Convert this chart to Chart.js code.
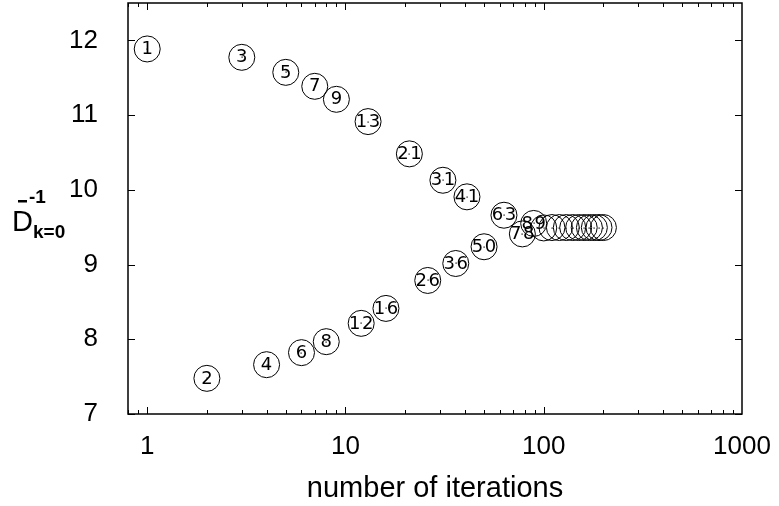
<!DOCTYPE html>
<html>
<head>
<meta charset="utf-8">
<script src="https://cdn.jsdelivr.net/npm/chart.js@4"></script>
<style>
  html, body { margin: 0; padding: 0; background: #fff; }
  #wrap { width: 779px; height: 506px; }
</style>
</head>
<body>
<div id="wrap"><canvas id="c" width="779" height="506"></canvas></div>
<script>
// ---- data ----
const iterations = [1, 2, 3, 4, 5, 6, 7, 8, 9, 12, 13, 16, 21, 26, 31, 36, 41, 50, 63, 78, 89,
  100, 110, 120, 130, 140, 150, 160, 170, 180, 190, 200];
const invD = [11.885, 7.477, 11.773, 7.660, 11.572, 7.821, 11.385, 7.968, 11.211, 8.213, 10.913,
  8.413, 10.481, 8.787, 10.128, 9.014, 9.906, 9.238, 9.660, 9.410, 9.550,
  9.490, 9.495, 9.495, 9.495, 9.495, 9.495, 9.495, 9.495, 9.495, 9.495, 9.495];
const pointLabels = ["1", "2", "3", "4", "5", "6", "7", "8", "9", "12", "13", "16", "21", "26", "31",
  "36", "41", "50", "63", "78", "89", "", "", "", "", "", "", "", "", "", "", ""];
const xTicks = [1, 10, 100, 1000];
const xTickLabels = ["1", "10", "100", "1000"];
const yTicks = [7, 8, 9, 10, 11, 12];
const yTickLabels = ["7", "8", "9", "10", "11", "12"];
const xTitle = "number of iterations";

const points = iterations.map((x, i) => ({ x: x, y: invD[i] }));

const decor = {
  id: 'decor',
  afterDatasetsDraw(chart) {
    const ctx = chart.ctx;
    const a = chart.chartArea;
    const xs = chart.scales.x, ys = chart.scales.y;
    ctx.save();
    // frame
    ctx.strokeStyle = '#000';
    ctx.lineWidth = 1.5;
    ctx.strokeRect(a.left, a.top, a.right - a.left, a.bottom - a.top);
    // x ticks (major + minor), inward at bottom and top
    ctx.lineWidth = 1;
    ctx.beginPath();
    for (let d = -1; d <= 2; d++) {
      for (let m = 1; m <= 9; m++) {
        const v = m * Math.pow(10, d);
        if (v < xs.min - 1e-9 || v > xs.max + 1e-9) continue;
        const px = Math.round(xs.getPixelForValue(v)) + 0.5;
        const len = (m === 1) ? 7 : 4;
        ctx.moveTo(px, a.bottom); ctx.lineTo(px, a.bottom - len);
        ctx.moveTo(px, a.top); ctx.lineTo(px, a.top + len);
      }
    }
    // y ticks inward left and right
    yTicks.forEach(v => {
      const py = Math.round(ys.getPixelForValue(v)) + 0.5;
      ctx.moveTo(a.left, py); ctx.lineTo(a.left + 7, py);
      ctx.moveTo(a.right, py); ctx.lineTo(a.right - 7, py);
    });
    ctx.stroke();

    // point labels + centre dots
    ctx.fillStyle = '#000';
    ctx.font = '18px "DejaVu Sans"';
    ctx.textAlign = 'center';
    ctx.textBaseline = 'middle';
    iterations.forEach((x, i) => {
      const cx = xs.getPixelForValue(x);
      const cy = ys.getPixelForValue(invD[i]);
      ctx.fillRect(Math.round(cx) - 0.5, Math.round(cy) - 0.5, 1.2, 1.2);
      const t = pointLabels[i];
      if (!t) return;
      if (t.length === 1) {
        ctx.fillText(t, cx, cy + 0.5);
      } else {
        ctx.fillText(t[0], cx - 6.5, cy + 0.5);
        ctx.fillText(t[1], cx + 6.5, cy + 0.5);
      }
    });

    // y-axis title: D-bar with superscript -1 and subscript k=0
    ctx.textAlign = 'left';
    ctx.textBaseline = 'alphabetic';
    ctx.font = '29px "Liberation Sans"';
    ctx.fillText('D', 12, 231);
    ctx.fillRect(18, 200, 9, 2.5);
    ctx.font = 'bold 19px "Liberation Sans"';
    ctx.fillText('-1', 29, 203);
    ctx.fillText('k=0', 33, 238);

    // x-axis title
    ctx.textAlign = 'center';
    ctx.font = '29px "Liberation Sans"';
    ctx.fillText(xTitle, (a.left + a.right) / 2, 497);
    ctx.restore();
  }
};

new Chart(document.getElementById('c'), {
  type: 'scatter',
  data: {
    datasets: [{
      data: points,
      pointStyle: 'circle',
      pointRadius: 13,
      pointHoverRadius: 13,
      borderColor: '#000',
      borderWidth: 1,
      backgroundColor: 'rgba(0,0,0,0)'
    }]
  },
  options: {
    responsive: false,
    animation: false,
    events: [],
    layout: { autoPadding: false, padding: { left: 0, right: 37, top: 3, bottom: 0 } },
    plugins: { legend: { display: false }, tooltip: { enabled: false } },
    scales: {
      x: {
        type: 'logarithmic',
        min: 0.8,
        max: 1000,
        grid: { display: false },
        border: { display: false },
        afterBuildTicks(scale) { scale.ticks = xTicks.map(v => ({ value: v })); },
        afterFit(scale) {
          scale.height = 92;
          scale.paddingLeft = 0; scale.paddingRight = 0;
          scale.paddingTop = 0; scale.paddingBottom = 0;
        },
        ticks: {
          color: '#000',
          padding: 9,
          maxRotation: 0,
          autoSkip: false,
          font: { family: '"Liberation Sans"', size: 26 },
          callback: (v) => { const i = xTicks.indexOf(v); return i >= 0 ? xTickLabels[i] : ''; }
        }
      },
      y: {
        type: 'linear',
        min: 7,
        max: 12.5,
        grid: { display: false },
        border: { display: false },
        afterBuildTicks(scale) { scale.ticks = yTicks.map(v => ({ value: v })); },
        afterFit(scale) {
          scale.width = 128;
          scale.paddingLeft = 0; scale.paddingRight = 0;
          scale.paddingTop = 0; scale.paddingBottom = 0;
        },
        ticks: {
          color: '#000',
          padding: 22,
          autoSkip: false,
          font: { family: '"Liberation Sans"', size: 26 },
          callback: (v) => { const i = yTicks.indexOf(v); return i >= 0 ? yTickLabels[i] : ''; }
        }
      }
    }
  },
  plugins: [decor]
});
</script>
</body>
</html>
